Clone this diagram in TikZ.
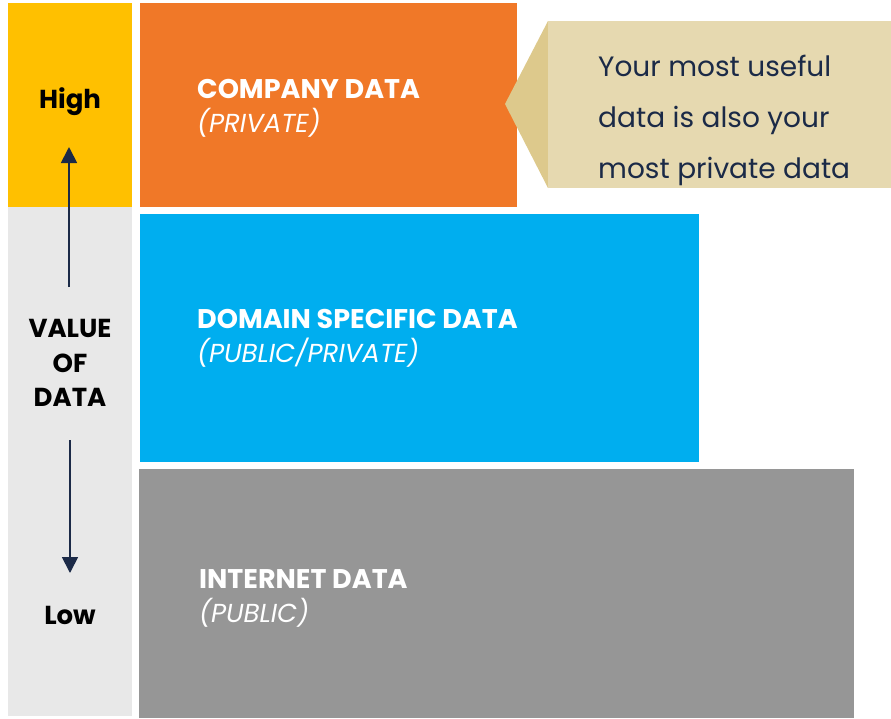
\documentclass[tikz,border=0pt]{standalone}
\usepackage{fontspec}
\setmainfont{Poppins}
\usetikzlibrary{arrows.meta}
\definecolor{cYellow}{HTML}{FFC000}
\definecolor{cOrange}{HTML}{F07828}
\definecolor{cBlue}{HTML}{00AEEF}
\definecolor{cGray}{HTML}{969696}
\definecolor{cLight}{HTML}{E8E8E8}
\definecolor{cSand}{HTML}{E6D9B0}
\definecolor{cSandDark}{HTML}{DDC98C}
\definecolor{cNavy}{HTML}{1B2A47}
\tikzset{
  block/.style={anchor=north west, inner sep=0pt, outer sep=0pt, draw=none},
  title/.style={anchor=base west, inner sep=0pt, text=white, font=\fontsize{27}{30}\selectfont\bfseries},
  subtitle/.style={anchor=base west, inner sep=0pt, text=white, font=\fontsize{26}{30}\selectfont\itshape},
  axislabel/.style={inner sep=0pt, text=black, align=center, font=\fontsize{26}{34.5}\selectfont\bfseries},
  axisarrow/.style={draw=cNavy, line width=1.8pt, -{Triangle[length=16pt,width=16pt]}},
}
\begin{document}
\begin{tikzpicture}[x=1pt,y=-1pt]
\useasboundingbox (0,0) rectangle (891,718);
% left value scale
\node[block, fill=cYellow, minimum width=124pt, minimum height=204pt] (high) at (8,3) {};
\node[block, fill=cLight, minimum width=124pt, minimum height=509pt] (scale) at (8,207) {};
% data layers
\node[block, fill=cOrange, minimum width=377pt, minimum height=204pt] (company) at (140,3) {};
\node[block, fill=cBlue, minimum width=559pt, minimum height=248pt] (domain) at (140,214) {};
\node[block, fill=cGray, minimum width=715pt, minimum height=249pt] (internet) at (139,469) {};
% callout pointing at the company layer
\fill[cSandDark] (505,104) -- (548,21) -- (548,188) -- cycle;
\node[block, fill=cSand, minimum width=343pt, minimum height=167pt] (note) at (548,21) {};
\node[anchor=west, inner sep=0pt, text=cNavy, align=left,
      font=\fontsize{28}{51}\selectfont] (notetext) at (598,120)
  {Your most useful\\data is also your\\most private data};
% layer captions
\node[title] (companyT) at (197,98) {COMPANY DATA};
\node[subtitle] (companyS) at (197,132) {(PRIVATE)};
\node[title] (domainT) at (197,328) {DOMAIN SPECIFIC DATA};
\node[subtitle] (domainS) at (197,362) {(PUBLIC/PRIVATE)};
\node[title] (internetT) at (199,588) {INTERNET DATA};
\node[subtitle] (internetS) at (199,622) {(PUBLIC)};
% scale labels and arrows
\node[axislabel] (hiT) at (70,102) {High};
\node[axislabel] (valT) at (70,363) {VALUE\\OF\\DATA};
\node[axislabel] (loT) at (70,615) {Low};
\coordinate (upStart) at (69,287);
\coordinate (upEnd) at (69,147);
\coordinate (dnStart) at (70,440);
\coordinate (dnEnd) at (70,573);
\draw[axisarrow] (upStart) -- (upEnd);
\draw[axisarrow] (dnStart) -- (dnEnd);
\end{tikzpicture}
\end{document}
